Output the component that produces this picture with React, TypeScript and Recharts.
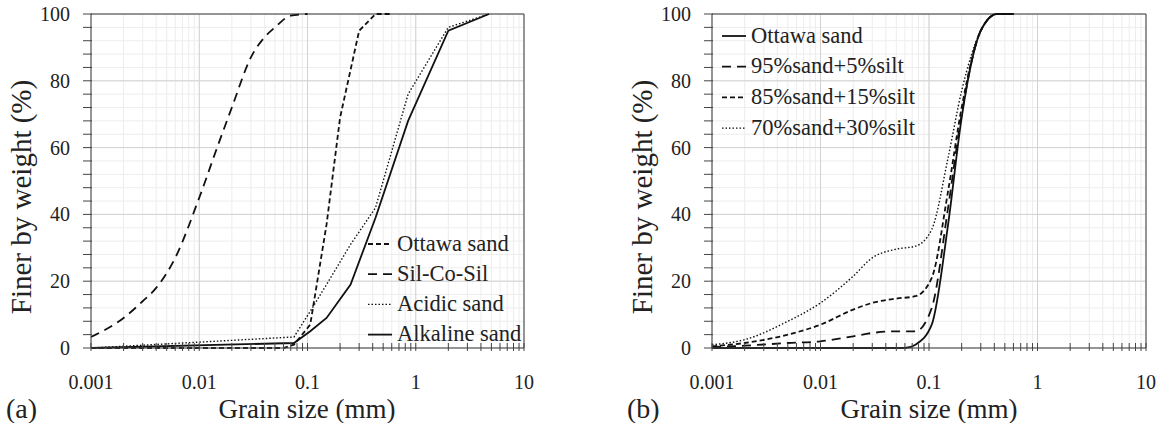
import React from 'react';
import { LineChart, Line, XAxis, YAxis, CartesianGrid, ReferenceLine } from 'recharts';

const FONT =
  "'Liberation Serif', Tinos, 'Nimbus Roman', 'Nimbus Roman No9 L', FreeSerif, 'Noto Serif', 'DejaVu Serif', 'Times New Roman', Times, serif";

// axis ticks
const DECADES = [0.001, 0.01, 0.1, 1, 10];
const MULTS = [1, 2, 3, 4, 5, 6, 7, 8, 9];
const X_TICKS = DECADES.slice(0, 4)
  .flatMap((d) => MULTS.map((m) => Number((d * m).toPrecision(2))))
  .concat([10]);
const Y_MAJOR = [0, 20, 40, 60, 80, 100];
const Y_TICKS = [0, 4, 8, 12, 16, 20, 24, 28, 32, 36, 40, 44, 48, 52, 56, 60, 64, 68, 72, 76, 80, 84, 88, 92, 96, 100];

// (a) soils
const ottawaSize = [0.001, 0.06, 0.075, 0.106, 0.15, 0.2, 0.3, 0.425, 0.6];
const ottawaFiner = [0, 0, 1, 7, 37, 69, 95, 100, 100];

const silCoSilSize = [0.001, 0.002, 0.003, 0.004, 0.006, 0.01, 0.015, 0.02, 0.03, 0.04, 0.05, 0.07, 0.1];
const silCoSilFiner = [3.3, 9, 14, 18, 27, 45, 61, 72, 87, 93, 96, 99.5, 100];

const acidicSize = [0.001, 0.075, 0.106, 0.15, 0.25, 0.425, 0.85, 2, 4.75];
const acidicFiner = [0, 3.3, 11, 19, 31, 42, 76, 96, 100];

const alkalineSize = [0.001, 0.075, 0.106, 0.15, 0.25, 0.425, 0.85, 2, 4.75];
const alkalineFiner = [0, 1.5, 5, 9, 19, 39, 68, 95, 100];

// (b) sand-silt mixtures
const mixSize = [0.001, 0.002, 0.005, 0.01, 0.02, 0.03, 0.05, 0.075, 0.106, 0.15, 0.2, 0.3, 0.425, 0.6];
const silt5Finer = [0.3, 0.7, 1.5, 2, 3.5, 4.5, 5, 5, 12, 42, 70, 95, 100, 100];
const silt15Finer = [0.5, 1.5, 4, 7, 11.5, 13.5, 14.8, 15.5, 21, 47, 72, 95, 100, 100];
const silt30Finer = [1, 2.5, 8, 13.5, 21.5, 27, 29.6, 30.5, 35.5, 57, 77, 95, 100, 100];

const zip = (xs: number[], ys: number[]) => xs.map((x, i) => ({ x, y: ys[i] }));

const textStyle = { fontFamily: FONT };
const AXIS = '#444';

const XTick = (props: any) => {
  const { x, y, payload } = props;
  const v = payload.value;
  const major = DECADES.includes(v);
  return (
    <g>
      <line x1={x} x2={x} y1={y - 5} y2={y + 3} stroke={AXIS} strokeWidth={1} />
      {major && (
        <text x={x} y={y + 41} textAnchor="middle" fontSize={20} style={textStyle} fill="#222">
          {String(v)}
        </text>
      )}
    </g>
  );
};

const YTick = (props: any) => {
  const { x, y, payload } = props;
  const v = payload.value;
  return (
    <g>
      <line x1={x - 8} x2={x + 1} y1={y} y2={y} stroke={AXIS} strokeWidth={1} />
      {v % 20 === 0 && (
        <text x={x - 21} y={y + 7} textAnchor="end" fontSize={20} style={textStyle} fill="#222">
          {v}
        </text>
      )}
    </g>
  );
};

interface Series {
  name: string;
  data: { x: number; y: number }[];
  dash?: string;
  width: number;
  curve: 'linear' | 'monotone';
}

const SERIES_A: Series[] = [
  { name: 'Ottawa sand', data: zip(ottawaSize, ottawaFiner), dash: '5 3', width: 1.8, curve: 'linear' },
  { name: 'Sil-Co-Sil', data: zip(silCoSilSize, silCoSilFiner), dash: '9 6', width: 1.8, curve: 'monotone' },
  { name: 'Acidic sand', data: zip(acidicSize, acidicFiner), dash: '1.5 2', width: 1.4, curve: 'linear' },
  { name: 'Alkaline sand', data: zip(alkalineSize, alkalineFiner), width: 1.8, curve: 'linear' },
];

const SERIES_B: Series[] = [
  { name: 'Ottawa sand', data: zip(ottawaSize, ottawaFiner), width: 1.8, curve: 'monotone' },
  { name: '95%sand+5%silt', data: zip(mixSize, silt5Finer), dash: '9 6', width: 1.8, curve: 'monotone' },
  { name: '85%sand+15%silt', data: zip(mixSize, silt15Finer), dash: '5 3', width: 1.8, curve: 'monotone' },
  { name: '70%sand+30%silt', data: zip(mixSize, silt30Finer), dash: '1.5 2', width: 1.4, curve: 'monotone' },
];

const Panel = ({ series, width, left, right }: { series: Series[]; width: number; left: number; right: number }) => (
  <LineChart width={width} height={423} margin={{ top: 14, right, bottom: 45, left }}>
    <CartesianGrid stroke="#ededed" strokeWidth={1} />
    <CartesianGrid stroke="#d2d2d2" strokeWidth={1} verticalValues={DECADES} horizontalValues={Y_MAJOR} />
    <XAxis
      dataKey="x"
      type="number"
      scale="log"
      domain={[0.001, 10]}
      allowDataOverflow
      ticks={X_TICKS}
      interval={0}
      tick={<XTick />}
      tickLine={false}
      tickSize={0}
      tickMargin={0}
      height={30}
      axisLine={{ stroke: AXIS }}
    />
    <YAxis
      type="number"
      domain={[0, 100]}
      ticks={Y_TICKS}
      interval={0}
      tick={<YTick />}
      tickLine={false}
      tickSize={0}
      tickMargin={0}
      width={60}
      axisLine={{ stroke: AXIS }}
    />
    <ReferenceLine y={100} stroke={AXIS} />
    <ReferenceLine x={10} stroke={AXIS} />
    {series.map((s) => (
      <Line
        key={s.name}
        data={s.data}
        dataKey="y"
        type={s.curve}
        stroke="#111"
        strokeWidth={s.width}
        strokeDasharray={s.dash}
        dot={false}
        activeDot={false}
        isAnimationActive={false}
      />
    ))}
  </LineChart>
);

const LegendBox = ({ series, x, y0, step }: { series: Series[]; x: number; y0: number; step: number }) => (
  <g>
    {series.map((s, i) => {
      const cy = y0 + i * step;
      return (
        <g key={s.name}>
          <line x1={x} x2={x + 24} y1={cy + 1} y2={cy + 1} stroke="#111" strokeWidth={s.width} strokeDasharray={s.dash} />
          <text x={x + 29} y={cy + 7.5} fontSize={22.5} style={textStyle} fill="#222">
            {s.name}
          </text>
        </g>
      );
    })}
  </g>
);

export default function App() {
  return (
    <div style={{ position: 'relative', width: 1161, height: 423, background: '#fff', overflow: 'hidden', fontFamily: FONT }}>
      <style>{'body{margin:0}'}</style>
      <div style={{ position: 'absolute', left: 0, top: 0 }}>
        <Panel series={SERIES_A} width={580} left={31} right={56} />
      </div>
      <div style={{ position: 'absolute', left: 580, top: 0 }}>
        <Panel series={SERIES_B} width={581} left={72} right={15} />
      </div>
      <svg width={1161} height={423} style={{ position: 'absolute', left: 0, top: 0, pointerEvents: 'none' }}>
        <LegendBox series={SERIES_A} x={368} y0={243} step={30.2} />
        <LegendBox series={SERIES_B} x={722} y0={35} step={30.7} />
        <text transform="translate(31,197) rotate(-90)" textAnchor="middle" fontSize={29} style={textStyle} fill="#222">
          Finer by weight (%)
        </text>
        <text transform="translate(652,197) rotate(-90)" textAnchor="middle" fontSize={29} style={textStyle} fill="#222">
          Finer by weight (%)
        </text>
        <text x={307} y={418} textAnchor="middle" fontSize={27} style={textStyle} fill="#222">
          Grain size (mm)
        </text>
        <text x={929} y={418} textAnchor="middle" fontSize={27} style={textStyle} fill="#222">
          Grain size (mm)
        </text>
        <text x={6} y={418} fontSize={28} style={textStyle} fill="#222">
          (a)
        </text>
        <text x={627} y={418} fontSize={28} style={textStyle} fill="#222">
          (b)
        </text>
      </svg>
    </div>
  );
}
